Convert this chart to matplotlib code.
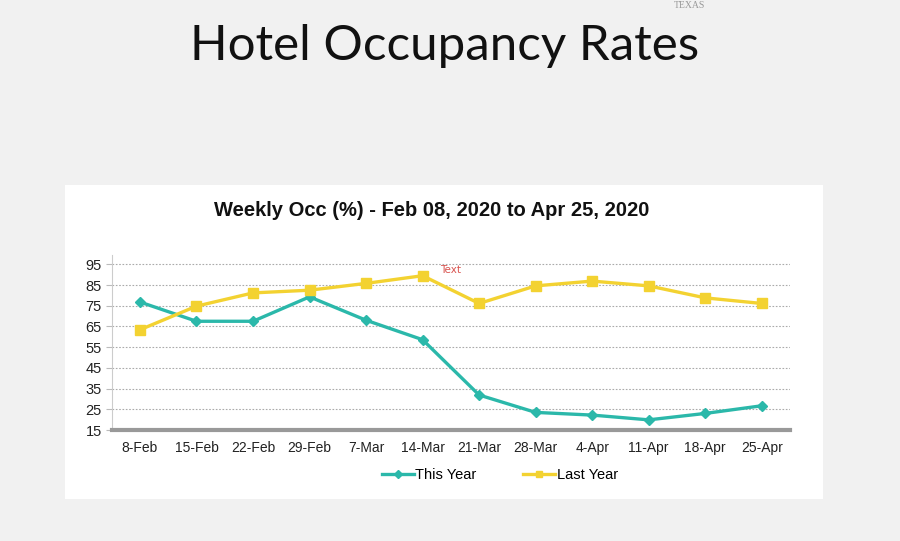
import matplotlib
matplotlib.use("Agg")
import matplotlib.pyplot as plt
from matplotlib.patches import Rectangle

weeks = ["8-Feb", "15-Feb", "22-Feb", "29-Feb", "7-Mar", "14-Mar", "21-Mar",
         "28-Mar", "4-Apr", "11-Apr", "18-Apr", "25-Apr"]
this_year = [76.8, 67.5, 67.5, 79.3, 68.0, 58.6, 31.9, 23.5, 22.2, 19.9, 23.0, 26.7]
last_year = [63.4, 74.8, 81.2, 82.5, 85.8, 89.5, 76.1, 84.6, 86.9, 84.6, 78.8, 76.1]
yticks = [15, 25, 35, 45, 55, 65, 75, 85, 95]

teal = "#2bb8aa"
yellow = "#f3d231"

fig = plt.figure(figsize=(9, 5.41), dpi=100)
fig.patch.set_facecolor("#f1f1f1")
fig.patches.append(Rectangle((65/900, 1-499/541), (823-65)/900, (499-185)/541,
                             transform=fig.transFigure, facecolor="white",
                             edgecolor="none", zorder=-10))

fig.text(445/900, 1-46/541, "Hotel Occupancy Rates", ha="center", va="center",
         fontsize=35.5, family="Lato", color="#111111")
fig.text(690/900, 1-1/541, "TEXAS", ha="center", va="top", fontsize=7,
         color="#999999", family="Liberation Serif")
fig.text(432/900, 1-210/541, "Weekly Occ (%) - Feb 08, 2020 to Apr 25, 2020",
         ha="center", va="center", fontsize=14.5, fontweight="bold",
         family="Liberation Sans", color="#111111")

ax = fig.add_axes([111.7/900, 1-430/541, (790-111.7)/900, (430-255)/541])
ax.set_facecolor("none")
x = list(range(len(weeks)))
ax.plot(x, this_year, color=teal, lw=2.4, marker="D", ms=5.5, label="This Year", zorder=3)
ax.plot(x, last_year, color=yellow, lw=2.4, marker="s", ms=6.5, label="Last Year", zorder=3)

ax.set_xlim(-0.5, len(weeks) - 0.5)
ax.set_ylim(15, 99.5)
ax.set_yticks(yticks)
ax.set_yticklabels([str(v) for v in yticks], family="Liberation Sans", fontsize=10.5, color="#222222")
ax.set_xticks(x)
ax.set_xticklabels(weeks, family="Liberation Sans", fontsize=10, color="#222222")
ax.tick_params(axis="x", length=0, pad=8)
ax.tick_params(axis="y", length=4, width=0.8, color="#bbbbbb", pad=3)
ax.grid(axis="y", color="#aaaaaa", linestyle=(0, (1.5, 1.5)), linewidth=0.8, zorder=1)
for s in ["top", "right"]:
    ax.spines[s].set_visible(False)
ax.spines["left"].set_color("#cccccc")
ax.spines["left"].set_linewidth(0.8)
ax.spines["bottom"].set_color("#999999")
ax.spines["bottom"].set_linewidth(3)

ax.text(5.5, 92.3, "Text", color="#d9534f", fontsize=7.5, ha="center", va="center",
        family="DejaVu Sans")

leg = fig.legend(loc="center", bbox_to_anchor=(500/900, 1-475/541), ncol=2,
                 frameon=False, prop={"family": "Liberation Sans", "size": 10.5},
                 handlelength=2.2, handletextpad=0.1, columnspacing=3.2, markerscale=0.7)

fig.savefig("out.png", dpi=100, facecolor=fig.get_facecolor())
